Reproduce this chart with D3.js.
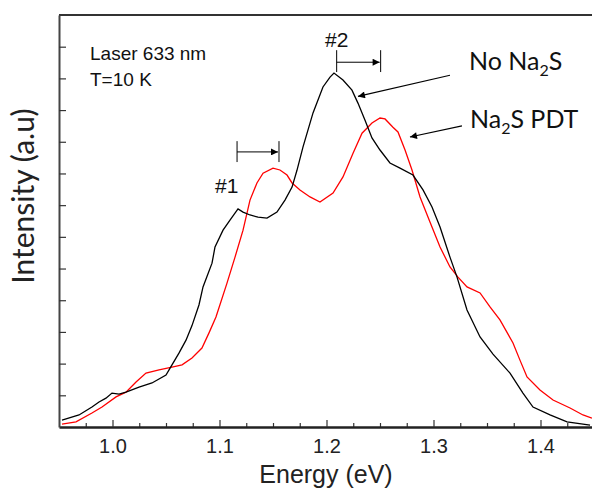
<!DOCTYPE html>
<html>
<head>
<meta charset="utf-8">
<script src="https://cdn.jsdelivr.net/npm/d3@7"></script>
<style>
    body { margin: 0; background: #fff; }
    svg { display: block; }
</style>
</head>
<body>
<svg id="chart" width="592" height="489"></svg>
<script>
// spectrum without Na2S (black)
let noNa2sEnergy = [0.9528, 0.9687, 0.9808, 0.9874, 0.9939, 0.9995, 1.0061, 1.0126, 1.0248, 1.0369,
    1.0500, 1.0556, 1.0621, 1.0687, 1.0743, 1.0808, 1.0846, 1.0930, 1.0958, 1.1033,
    1.1098, 1.1173, 1.1220, 1.1285, 1.1360, 1.1444, 1.1537, 1.1612, 1.1678, 1.1724,
    1.1780, 1.1874, 1.1967, 1.2033, 1.2070, 1.2154, 1.2238, 1.2294, 1.2360, 1.2425,
    1.2500, 1.2593, 1.2687, 1.2808, 1.2902, 1.2986, 1.3061, 1.3154, 1.3220, 1.3313,
    1.3435, 1.3556, 1.3715, 1.3836, 1.3930, 1.4089, 1.4248, 1.4463];
let noNa2sIntensity = [0.22, 0.38, 0.63, 0.79, 0.91, 1.07, 1.04, 1.10, 1.26, 1.39,
    1.64, 1.96, 2.33, 2.74, 3.20, 3.85, 4.42, 5.17, 5.68, 6.21,
    6.53, 6.88, 6.78, 6.69, 6.62, 6.59, 6.78, 7.16, 7.57, 8.10,
    8.83, 9.91, 10.73, 11.04, 11.17, 10.95, 10.63, 10.22, 9.68, 9.12,
    8.74, 8.33, 8.17, 7.95, 7.48, 6.94, 6.31, 5.36, 4.73, 3.69,
    2.84, 2.30, 1.70, 1.07, 0.63, 0.38, 0.16, 0.06];

// spectrum after Na2S PDT (red)
let pdtEnergy = [0.9528, 0.9659, 0.9808, 0.9902, 1.0033, 1.0126, 1.0220, 1.0313, 1.0435, 1.0556,
    1.0650, 1.0743, 1.0836, 1.0902, 1.0967, 1.1070, 1.1145, 1.1220, 1.1285, 1.1350,
    1.1407, 1.1500, 1.1565, 1.1631, 1.1678, 1.1752, 1.1846, 1.1939, 1.2061, 1.2154,
    1.2248, 1.2332, 1.2425, 1.2500, 1.2547, 1.2621, 1.2668, 1.2734, 1.2799, 1.2874,
    1.2967, 1.3061, 1.3154, 1.3229, 1.3313, 1.3435, 1.3528, 1.3621, 1.3743, 1.3808,
    1.3874, 1.3995, 1.4117, 1.4276, 1.4397, 1.4481];
let pdtIntensity = [0.09, 0.16, 0.44, 0.63, 0.95, 1.10, 1.42, 1.70, 1.80, 1.89,
    1.96, 2.18, 2.49, 2.97, 3.47, 4.54, 5.36, 6.21, 7.16, 7.70,
    8.01, 8.17, 8.11, 7.95, 7.70, 7.48, 7.26, 7.10, 7.38, 7.89,
    8.64, 9.27, 9.59, 9.75, 9.72, 9.46, 9.31, 8.74, 8.11, 7.26,
    6.47, 5.68, 5.05, 4.73, 4.42, 4.23, 3.79, 3.38, 2.65, 2.11,
    1.58, 1.17, 0.85, 0.60, 0.38, 0.28];

let majorTicks = [1.0, 1.1, 1.2, 1.3, 1.4];
let minorTicks = [0.975, 1.025, 1.05, 1.075, 1.125, 1.15, 1.175, 1.225, 1.25, 1.275, 1.325, 1.35, 1.375, 1.425];
let yTicks = [1, 2, 3, 4, 5, 6, 7, 8, 9, 10, 11, 12];

let svg = d3.select("#chart");

let plotLeft = 59, plotTop = 15, plotBottom = 427, plotRight = 594;

let x = d3.scaleLinear().domain([0.95, 1.45]).range([plotLeft, plotRight]);
let y = d3.scaleLinear().domain([0, 13]).range([plotBottom, plotTop]);

let defs = svg.append("defs");
defs.append("marker")
    .attr("id", "head")
    .attr("viewBox", "0 0 10 10")
    .attr("refX", 10).attr("refY", 5)
    .attr("markerWidth", 9).attr("markerHeight", 7)
    .attr("markerUnits", "userSpaceOnUse")
    .attr("orient", "auto")
    .append("path")
    .attr("d", "M0,0 L10,5 L0,10 Z")
    .attr("fill", "#000");

// frame: top line
svg.append("line")
    .attr("x1", plotLeft).attr("x2", 592)
    .attr("y1", plotTop).attr("y2", plotTop)
    .attr("stroke", "#333").attr("stroke-width", 2);

// x axis, ticks pointing inside
let xMinor = svg.append("g")
    .attr("transform", "translate(0," + plotBottom + ")")
    .call(d3.axisBottom(x).tickValues(minorTicks).tickSize(-4).tickFormat(""));
xMinor.select(".domain").remove();
xMinor.selectAll("line").attr("stroke", "#333").attr("stroke-width", 1.2);

let xAxis = svg.append("g")
    .attr("transform", "translate(0," + plotBottom + ")")
    .call(d3.axisBottom(x).tickValues(majorTicks).tickSizeInner(-7).tickSizeOuter(0)
        .tickPadding(12).tickFormat(d3.format(".1f")));
xAxis.select(".domain").attr("stroke", "#222").attr("stroke-width", 2.5);
xAxis.selectAll("line").attr("stroke", "#333").attr("stroke-width", 1.2);
xAxis.selectAll("text")
    .style("font", "20px 'Liberation Sans', Arial, sans-serif")
    .attr("fill", "#222");

let yAxis = svg.append("g")
    .attr("transform", "translate(" + plotLeft + ",0)")
    .call(d3.axisLeft(y).tickValues(yTicks).tickSizeInner(-7).tickSizeOuter(0).tickFormat(""));
yAxis.select(".domain").attr("stroke", "#444").attr("stroke-width", 2);
yAxis.selectAll("line").attr("stroke", "#333").attr("stroke-width", 1.2);

// axis titles
svg.append("text")
    .attr("x", 326).attr("y", 483)
    .attr("text-anchor", "middle")
    .style("font", "25px 'Liberation Sans', Arial, sans-serif")
    .attr("fill", "#222")
    .text("Energy (eV)");

svg.append("text")
    .attr("transform", "translate(34,196) rotate(-90)")
    .attr("text-anchor", "middle")
    .style("font", "30px Lato, 'Open Sans', sans-serif")
    .attr("fill", "#222")
    .text("Intensity (a.u)");

// spectra
let line = d3.line()
    .x(d => x(d[0]))
    .y(d => y(d[1]));

svg.append("path")
    .datum(d3.zip(pdtEnergy, pdtIntensity))
    .attr("fill", "none")
    .attr("stroke", "#ff0000")
    .attr("stroke-width", 1.3)
    .attr("d", line);

svg.append("path")
    .datum(d3.zip(noNa2sEnergy, noNa2sIntensity))
    .attr("fill", "none")
    .attr("stroke", "#000")
    .attr("stroke-width", 1.3)
    .attr("d", line);

// shift brackets for peaks #1 and #2
let brackets = [
    {from: 1.1164, to: 1.1556, lo: 8.36, hi: 9.02, mid: 8.68},
    {from: 1.2095, to: 1.2506, lo: 11.20, hi: 11.89, mid: 11.51}
];
brackets.forEach(b => {
    [b.from, b.to].forEach(e => {
        svg.append("line")
            .attr("x1", x(e)).attr("x2", x(e))
            .attr("y1", y(b.hi)).attr("y2", y(b.lo))
            .attr("stroke", "#000").attr("stroke-width", 1);
    });
    svg.append("line")
        .attr("x1", x(b.from)).attr("x2", x(b.to) - 1)
        .attr("y1", y(b.mid)).attr("y2", y(b.mid))
        .attr("stroke", "#000").attr("stroke-width", 1)
        .attr("marker-end", "url(#head)");
});

// pointer arrows to the curves
let pointers = [
    {e0: 1.3154, v0: 11.10, e1: 1.2294, v1: 10.43},
    {e0: 1.3266, v0: 9.50, e1: 1.2780, v1: 9.15}
];
pointers.forEach(p => {
    svg.append("line")
        .attr("x1", x(p.e0)).attr("y1", y(p.v0))
        .attr("x2", x(p.e1)).attr("y2", y(p.v1))
        .attr("stroke", "#000").attr("stroke-width", 1.2)
        .attr("marker-end", "url(#head)");
});

let arial = "'Liberation Sans', Arial, sans-serif";
let labels = [
    {e: 0.979, v: 11.58, text: "Laser 633 nm", font: "19px " + arial},
    {e: 0.979, v: 10.76, text: "T=10 K", font: "19px " + arial},
    {e: 1.0958, v: 7.38, text: "#1", font: "21px " + arial},
    {e: 1.1986, v: 11.99, text: "#2", font: "21px " + arial}
];
labels.forEach(l => {
    svg.append("text")
        .attr("x", x(l.e)).attr("y", y(l.v))
        .style("font", l.font)
        .attr("fill", "#111")
        .text(l.text);
});

// sample labels with subscript
let lato = "25px Lato, 'Open Sans', sans-serif";
let t1 = svg.append("text")
    .attr("x", x(1.3332)).attr("y", y(11.26))
    .style("font", lato).attr("fill", "#111");
t1.append("tspan").text("No Na");
t1.append("tspan").attr("dy", 6).style("font-size", "16px").text("2");
t1.append("tspan").attr("dy", -6).text("S");

let t2 = svg.append("text")
    .attr("x", x(1.3341)).attr("y", y(9.43))
    .style("font", lato).attr("fill", "#111");
t2.append("tspan").text("Na");
t2.append("tspan").attr("dy", 6).style("font-size", "16px").text("2");
t2.append("tspan").attr("dy", -6).text("S PDT");
</script>
</body>
</html>
